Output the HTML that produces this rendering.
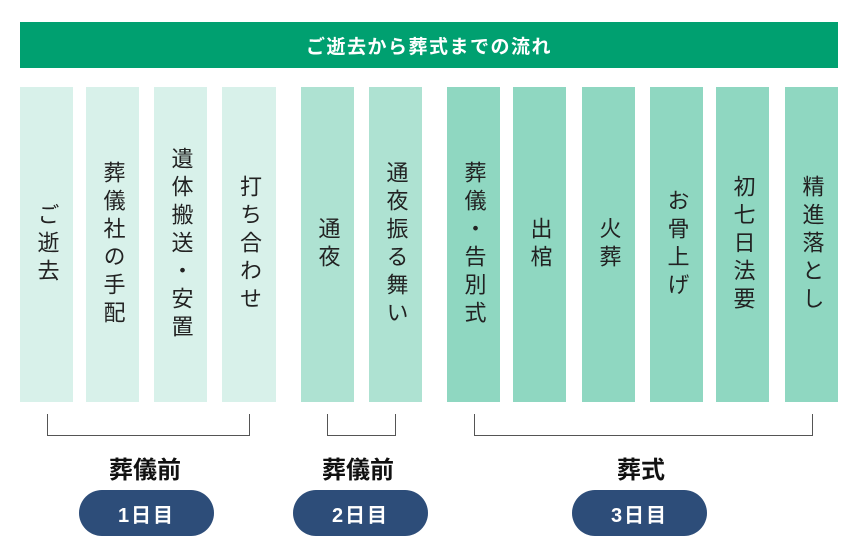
<!DOCTYPE html>
<html><head><meta charset="utf-8"><style>
*{margin:0;padding:0;box-sizing:border-box}
body{width:860px;height:560px;background:#fff;position:relative;overflow:hidden;font-family:"Liberation Sans","Noto Sans CJK JP",sans-serif}
.hd{position:absolute;left:20px;top:22px;width:818px;height:46px;background:#00a070;color:#fff;font-size:19px;font-weight:bold;display:flex;align-items:center;justify-content:center;letter-spacing:1.5px}
.c{position:absolute;top:87px;height:315px;width:53px;display:flex;align-items:center;justify-content:center;color:#222}
.c span{writing-mode:vertical-rl;font-size:22px;letter-spacing:6px;line-height:1}
.g1{background:#d8f1ea}.g2{background:#aee2d2}.g3{background:#8fd7c1}
.br{position:absolute;top:414px;height:22px;border:1.5px solid #555;border-top:none}
.lb{position:absolute;top:450px;font-size:24px;font-weight:bold;color:#111;text-align:center;width:200px}
.pl{position:absolute;top:490px;height:46px;width:135px;border-radius:23px;background:#2d4d79;color:#fff;font-size:20px;font-weight:bold;display:flex;align-items:center;justify-content:center;letter-spacing:2px}
</style></head><body>
<div class="hd">ご逝去から葬式までの流れ</div>
<div class="c g1" style="left:20px"><span>ご逝去</span></div>
<div class="c g1" style="left:86px"><span>葬儀社の手配</span></div>
<div class="c g1" style="left:154px"><span>遺体搬送・安置</span></div>
<div class="c g1" style="left:222px;width:54px"><span>打ち合わせ</span></div>
<div class="c g2" style="left:301px"><span>通夜</span></div>
<div class="c g2" style="left:369px"><span>通夜振る舞い</span></div>
<div class="c g3" style="left:447px"><span>葬儀・告別式</span></div>
<div class="c g3" style="left:513px"><span>出棺</span></div>
<div class="c g3" style="left:582px"><span>火葬</span></div>
<div class="c g3" style="left:650px"><span>お骨上げ</span></div>
<div class="c g3" style="left:716px"><span>初七日法要</span></div>
<div class="c g3" style="left:785px"><span>精進落とし</span></div>
<div class="br" style="left:47px;width:203px"></div>
<div class="br" style="left:327px;width:69px"></div>
<div class="br" style="left:474px;width:339px"></div>
<div class="lb" style="left:45px">葬儀前</div>
<div class="lb" style="left:258px">葬儀前</div>
<div class="lb" style="left:541px">葬式</div>
<div class="pl" style="left:79px">1日目</div>
<div class="pl" style="left:293px">2日目</div>
<div class="pl" style="left:572px">3日目</div>
</body></html>
